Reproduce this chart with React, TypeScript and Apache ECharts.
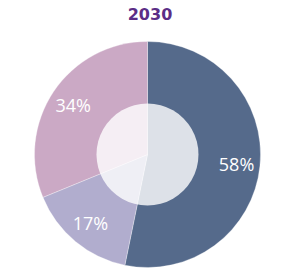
import React, { useEffect, useRef } from "react";
import * as echarts from "echarts";

const title = "2030";
const categories = ["A", "B", "C"];
const values = [58, 17, 34];
const colors = ["#556a8b", "#b1adce", "#cba9c5"];

export default function App() {
  const ref = useRef<HTMLDivElement>(null);
  useEffect(() => {
    if (!ref.current) return;
    const chart = echarts.init(ref.current, undefined, { renderer: "svg" });
    const data = categories.map((c, i) => ({
      name: c,
      value: values[i],
      itemStyle: { color: colors[i] },
    }));
    chart.setOption({
      animation: false,
      title: {
        text: title,
        left: "center",
        top: 1,
        textStyle: {
          color: "#5b2d86",
          fontFamily: "DejaVu Sans",
          fontWeight: "bold",
          fontSize: 16,
        },
      },
      series: [
        {
          type: "pie",
          center: [147.5, 154.5],
          radius: [0, 113],
          startAngle: 90,
          silent: true,
          label: { show: false },
          labelLine: { show: false },
          itemStyle: { borderColor: "rgba(255,255,255,0.6)", borderWidth: 0.5 },
          data,
          z: 1,
        },
        {
          type: "pie",
          center: [147.5, 154.5],
          radius: [0, 51],
          silent: true,
          label: { show: false },
          labelLine: { show: false },
          data: [{ value: 1, name: "hole", itemStyle: { color: "rgba(255,255,255,0.8)" } }],
          z: 2,
        },
        {
          type: "pie",
          center: [147.5, 154.5],
          radius: [60, 113],
          startAngle: 90,
          silent: true,
          itemStyle: { color: "transparent" },
          label: {
            show: true,
            position: "inside",
            formatter: (p: any) => p.value + "%",
            color: "#ffffff",
            fontFamily: "Open Sans",
            fontSize: 18,
          },
          labelLine: { show: false },
          data: categories.map((c, i) => ({ name: c, value: values[i] })),
          z: 3,
        },
      ],
    });
    return () => chart.dispose();
  }, []);
  return (
    <div
      ref={ref}
      style={{ position: "fixed", left: 0, top: 0, width: 300, height: 275, background: "#fff" }}
    />
  );
}
